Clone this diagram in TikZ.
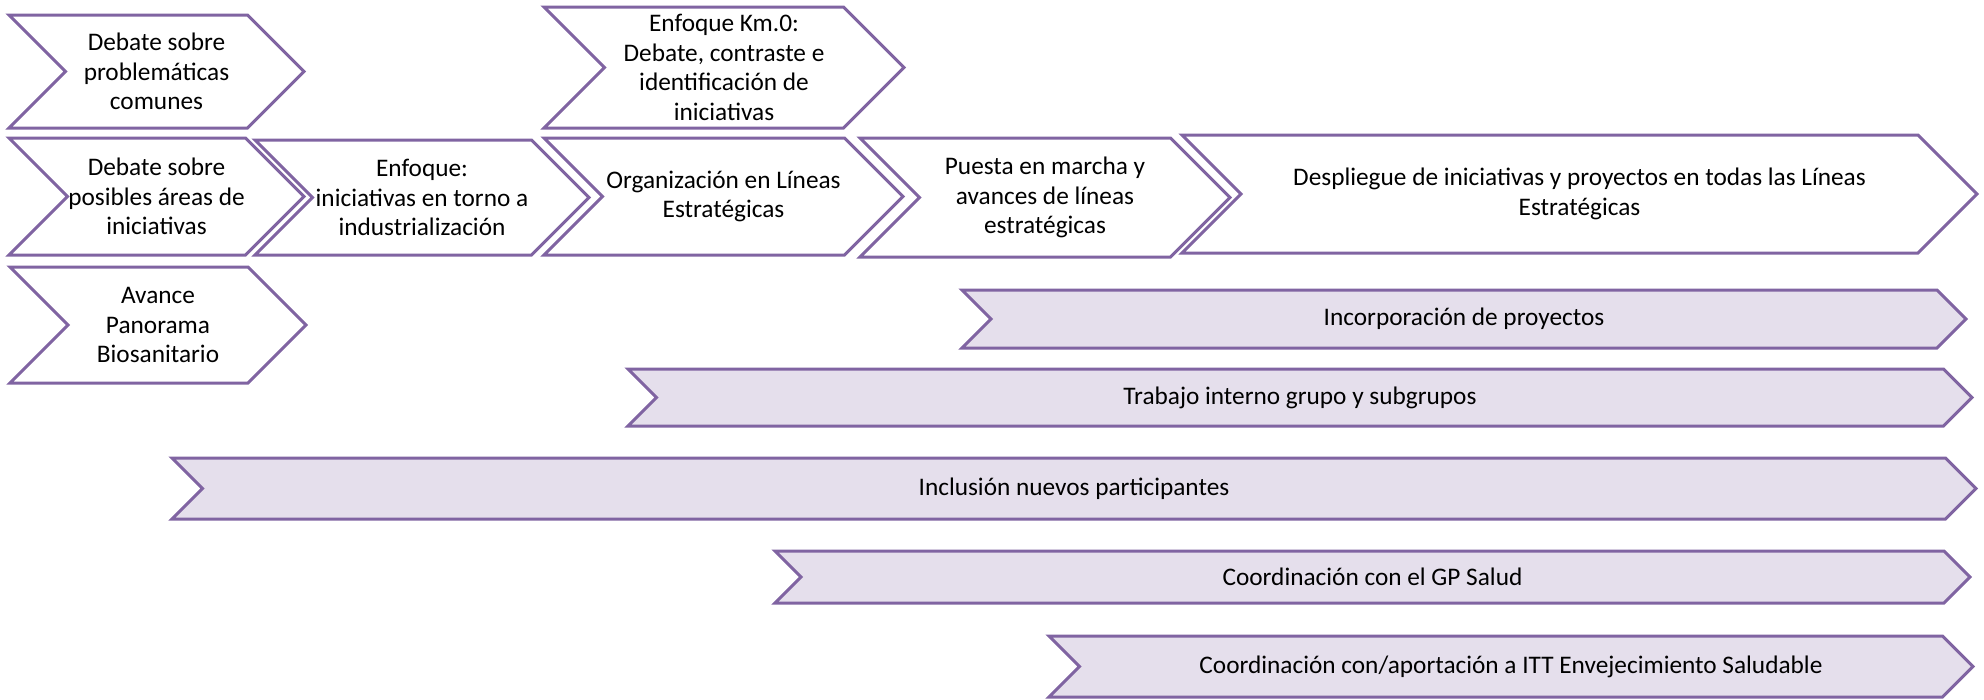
\documentclass[tikz,border=0pt]{standalone}
\usepackage{fontspec}
\setmainfont{Carlito}
\definecolor{chevline}{HTML}{8064A2}
\definecolor{bandfill}{HTML}{E5DFEC}
\tikzset{
  stepshape/.style={draw=chevline, line width=3pt, fill=white, line join=miter},
  bandshape/.style={draw=chevline, line width=3pt, fill=bandfill, line join=miter},
  txt/.style={inner sep=0pt, align=center, text=black, font={\fontsize{25.3}{29.5}\selectfont}}
}
% #1 name, #2 style, #3 left, #4 right, #5 top, #6 bottom, #7 text
\newcommand{\chevshape}[7]{%
  \draw[#2] (#3,#5) -- ({#4-(#6-#5)/2},#5) -- (#4,{(#5+#6)/2}) -- ({#4-(#6-#5)/2},#6)
    -- (#3,#6) -- ({#3+(#6-#5)/2},{(#5+#6)/2}) -- cycle;
  \node[txt] (#1) at ({(#3+#4)/2},{(#5+#6)/2}) {#7};
}
\begin{document}
\begin{tikzpicture}[x=1pt,y=-1pt]
\useasboundingbox (0,0) rectangle (1984,699);
% top chevrons
\chevshape{a}{stepshape}{9}{304}{15}{128}{Debate sobre\\problemáticas\\comunes}
\chevshape{b}{stepshape}{9}{304}{138}{255}{Debate sobre\\posibles áreas de\\iniciativas}
\chevshape{c}{stepshape}{10}{306}{267}{383}{Avance\\Panorama\\Biosanitario}
\chevshape{d}{stepshape}{255}{589}{140}{255}{Enfoque:\\iniciativas en torno a\\industrialización}
\chevshape{e}{stepshape}{544}{904}{7}{128}{Enfoque Km.0:\\Debate, contraste e\\identificación de\\iniciativas}
\chevshape{f}{stepshape}{544}{903}{138}{255}{Organización en Líneas\\Estratégicas}
\chevshape{g}{stepshape}{860}{1230}{138}{257}{Puesta en marcha y\\avances de líneas\\estratégicas}
\chevshape{h}{stepshape}{1182}{1977}{135}{253}{Despliegue de iniciativas y proyectos en todas las Líneas\\Estratégicas}
% bands
\chevshape{i1}{bandshape}{962}{1966}{290}{348}{Incorporación de proyectos}
\chevshape{i2}{bandshape}{628}{1972}{369}{426}{Trabajo interno grupo y subgrupos}
\chevshape{i3}{bandshape}{172}{1976}{458}{519}{Inclusión nuevos participantes}
\chevshape{i4}{bandshape}{775}{1970}{551}{603}{Coordinación con el GP Salud}
\chevshape{i5}{bandshape}{1049}{1973}{636}{697}{Coordinación con/aportación a ITT Envejecimiento Saludable}
\end{tikzpicture}
\end{document}
